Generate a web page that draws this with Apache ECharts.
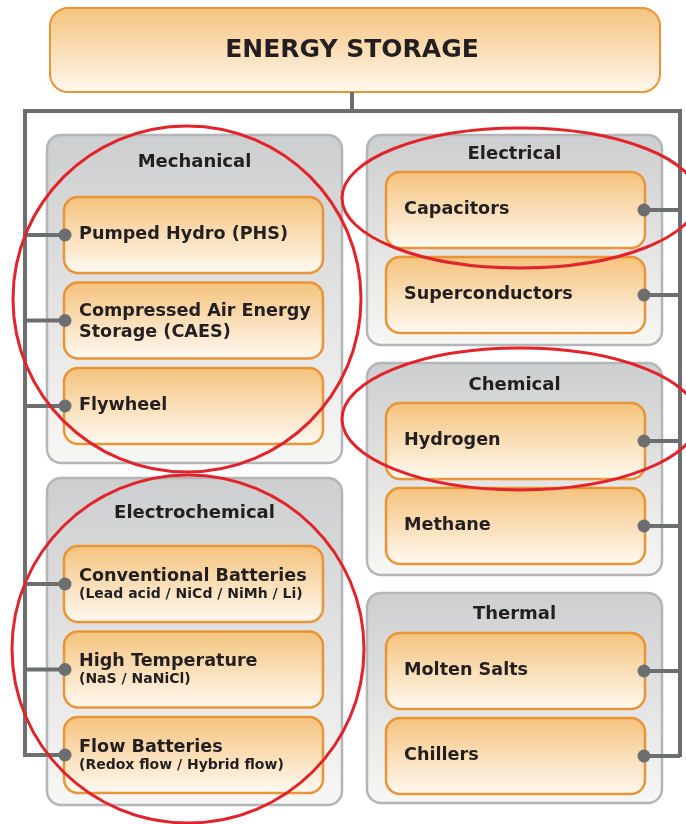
<!DOCTYPE html>
<html>
<head>
<meta charset="utf-8">
<script src="https://cdn.jsdelivr.net/npm/echarts@6/dist/echarts.min.js"></script>
<style>
  html, body { margin: 0; padding: 0; background: #fff; }
  #chart { width: 686px; height: 824px; }
</style>
</head>
<body>
<div id="chart"></div>
<script>
// diagram content
var chartTitle = 'ENERGY STORAGE';
var groupNames = ['Mechanical', 'Electrochemical', 'Electrical', 'Chemical', 'Thermal'];
var groupSides = ['left', 'left', 'right', 'right', 'right'];
var itemNames = [
  'Pumped Hydro (PHS)',
  'Compressed Air Energy\nStorage (CAES)',
  'Flywheel',
  'Conventional Batteries',
  'High Temperature',
  'Flow Batteries',
  'Capacitors',
  'Superconductors',
  'Hydrogen',
  'Methane',
  'Molten Salts',
  'Chillers'
];
var itemNotes = [
  '', '', '',
  '(Lead acid / NiCd / NiMh / Li)',
  '(NaS / NaNiCl)',
  '(Redox flow / Hybrid flow)',
  '', '', '', '', '', ''
];
var itemGroups = [0, 0, 0, 1, 1, 1, 2, 2, 3, 3, 4, 4];
var circledNames = ['Mechanical', 'Electrochemical', 'Capacitors', 'Hydrogen'];

// layout (pixels on the 686 x 824 page)
var FONT = '"DejaVu Sans", sans-serif';
var INK = '#231f20';
var WIRE = '#6d6e70';
var ITEM_H = 76;
var headBox = { x0: 50, x1: 660, y0: 8, y1: 92, textX: 352 };
var spine = { y: 111, left: 25, right: 680, bottom: 757 };
var columns = {
  left: { x: 47, w: 295, itemX: 64, itemW: 259, textPad: 15 },
  right: { x: 367, w: 295, itemX: 386, itemW: 259, textPad: 18 }
};
var groupFrames = {
  Mechanical: { top: 135, bottom: 463, titleY: 162, firstItem: 197, pitch: 85.5 },
  Electrochemical: { top: 478, bottom: 805, titleY: 513, firstItem: 546, pitch: 85.5 },
  Electrical: { top: 135, bottom: 345, titleY: 154, firstItem: 172, pitch: 85 },
  Chemical: { top: 363, bottom: 575, titleY: 385, firstItem: 403, pitch: 85 },
  Thermal: { top: 593, bottom: 803, titleY: 614, firstItem: 633, pitch: 85 }
};
var rings = {
  Mechanical: { cx: 187, cy: 299, rx: 174, ry: 173 },
  Electrochemical: { cx: 188, cy: 649, rx: 176, ry: 174 },
  Capacitors: { cx: 520, cy: 198, rx: 178, ry: 70 },
  Hydrogen: { cx: 520, cy: 419, rx: 178, ry: 71 }
};

function grad(top, bottom) {
  return new echarts.graphic.LinearGradient(0, 0, 0, 1, [
    { offset: 0, color: top },
    { offset: 1, color: bottom }
  ]);
}

// where an item sits: its box corners in data units
function itemFrame(i) {
  var g = itemGroups[i];
  var col = columns[groupSides[g]];
  var f = groupFrames[groupNames[g]];
  var k = 0;
  for (var j = 0; j < i; j++) {
    if (itemGroups[j] === g) k++;
  }
  var top = f.firstItem + k * f.pitch;
  return { side: groupSides[g], col: col, top: top, bottom: top + ITEM_H };
}

function renderHead(params, api) {
  var p0 = api.coord([headBox.x0, headBox.y0]);
  var p1 = api.coord([headBox.x1, headBox.y1]);
  var c = api.coord([headBox.textX, (headBox.y0 + headBox.y1) / 2]);
  return {
    type: 'group',
    children: [
      {
        type: 'rect',
        shape: { x: p0[0], y: p0[1], width: p1[0] - p0[0], height: p1[1] - p0[1], r: 18 },
        style: { fill: grad('#f6c27c', '#fff9f0'), stroke: '#e99437', lineWidth: 2 }
      },
      {
        type: 'text',
        style: {
          text: chartTitle, x: c[0], y: c[1], align: 'center', verticalAlign: 'middle',
          font: 'bold 25px ' + FONT, fill: INK
        }
      }
    ]
  };
}

function renderGroup(params, api) {
  var g = api.value(0);
  var col = columns[groupSides[g]];
  var f = groupFrames[groupNames[g]];
  var p0 = api.coord([col.x, f.top]);
  var p1 = api.coord([col.x + col.w, f.bottom]);
  var t = api.coord([col.x + col.w / 2, f.titleY]);
  return {
    type: 'group',
    children: [
      {
        type: 'rect',
        shape: { x: p0[0], y: p0[1], width: p1[0] - p0[0], height: p1[1] - p0[1], r: 14 },
        style: { fill: grad('#cdcecf', '#f7f7f5'), stroke: '#b4b5b7', lineWidth: 2.5 }
      },
      {
        type: 'text',
        style: {
          text: groupNames[g], x: t[0], y: t[1], align: 'center', verticalAlign: 'middle',
          font: 'bold 18px ' + FONT, fill: INK
        }
      }
    ]
  };
}

function renderItem(params, api) {
  var i = api.value(0);
  var fr = itemFrame(i);
  var p0 = api.coord([fr.col.itemX, fr.top]);
  var p1 = api.coord([fr.col.itemX + fr.col.itemW, fr.bottom]);
  var tx = p0[0] + fr.col.textPad;
  var mid = (p0[1] + p1[1]) / 2;
  var children = [{
    type: 'rect',
    shape: { x: p0[0], y: p0[1], width: p1[0] - p0[0], height: p1[1] - p0[1], r: 14 },
    style: { fill: grad('#f5c27b', '#fffaf3'), stroke: '#e99437', lineWidth: 2.5 }
  }];
  var lines = itemNames[i].split('\n');
  var ys;
  if (itemNotes[i]) {
    ys = [mid - 8];
  } else if (lines.length === 2) {
    ys = [mid - 9, mid + 12];
  } else {
    ys = [mid - 1];
  }
  lines.forEach(function (s, n) {
    children.push({
      type: 'text',
      style: { text: s, x: tx, y: ys[n], verticalAlign: 'middle', font: 'bold 17.6px ' + FONT, fill: INK }
    });
  });
  if (itemNotes[i]) {
    children.push({
      type: 'text',
      style: { text: itemNotes[i], x: tx, y: mid + 10, verticalAlign: 'middle', font: 'bold 14px ' + FONT, fill: INK }
    });
  }
  return { type: 'group', children: children };
}

function renderSpine(params, api) {
  var top = api.coord([headBox.textX, headBox.y1]);
  var joint = api.coord([headBox.textX, spine.y]);
  var lt = api.coord([spine.left, spine.y]);
  var lb = api.coord([spine.left, spine.bottom]);
  var rt = api.coord([spine.right, spine.y]);
  var rb = api.coord([spine.right, spine.bottom]);
  var st = { stroke: WIRE, lineWidth: 4, fill: null, lineJoin: 'miter' };
  return {
    type: 'group',
    children: [
      { type: 'line', shape: { x1: top[0], y1: top[1], x2: joint[0], y2: joint[1] }, style: st },
      { type: 'polyline', shape: { points: [lb, lt, rt, rb] }, style: st }
    ]
  };
}

function renderBranch(params, api) {
  var i = api.value(0);
  var fr = itemFrame(i);
  var y = (fr.top + fr.bottom) / 2;
  var dotX = fr.side === 'left' ? fr.col.itemX + 1 : fr.col.itemX + fr.col.itemW - 1;
  var wireX = fr.side === 'left' ? spine.left : spine.right;
  var d = api.coord([dotX, y]);
  var w = api.coord([wireX, y]);
  return {
    type: 'group',
    children: [
      { type: 'line', shape: { x1: w[0], y1: w[1], x2: d[0], y2: d[1] }, style: { stroke: WIRE, lineWidth: 4 } },
      { type: 'circle', shape: { cx: d[0], cy: d[1], r: 6.5 }, style: { fill: WIRE } }
    ]
  };
}

function renderRing(params, api) {
  var r = rings[circledNames[api.value(0)]];
  var c = api.coord([r.cx, r.cy]);
  var e = api.coord([r.cx + r.rx, r.cy + r.ry]);
  return {
    type: 'ellipse',
    shape: { cx: c[0], cy: c[1], rx: e[0] - c[0], ry: e[1] - c[1] },
    style: { fill: null, stroke: '#e2232a', lineWidth: 3 }
  };
}

function indexData(arr) {
  return arr.map(function (d, i) { return [i]; });
}

var chart = echarts.init(document.getElementById('chart'));
chart.setOption({
  animation: false,
  grid: { left: 0, right: 0, top: 0, bottom: 0 },
  xAxis: { type: 'value', min: 0, max: 686, show: false },
  yAxis: { type: 'value', min: 0, max: 824, inverse: true, show: false },
  series: [
    { type: 'custom', z: 1, silent: true, renderItem: renderHead, data: [[0]] },
    { type: 'custom', z: 2, silent: true, renderItem: renderGroup, data: indexData(groupNames) },
    { type: 'custom', z: 3, silent: true, renderItem: renderItem, data: indexData(itemNames) },
    { type: 'custom', z: 4, silent: true, renderItem: renderSpine, data: [[0]] },
    { type: 'custom', z: 5, silent: true, renderItem: renderBranch, data: indexData(itemNames) },
    { type: 'custom', z: 6, silent: true, renderItem: renderRing, data: indexData(circledNames) }
  ]
});
</script>
</body>
</html>
